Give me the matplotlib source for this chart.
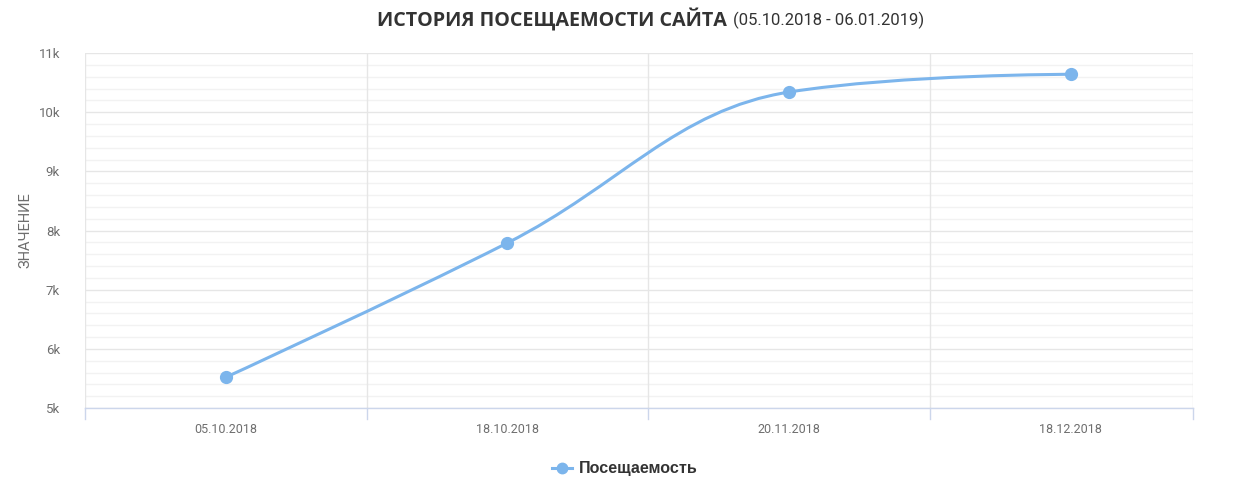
import numpy as np
import matplotlib
matplotlib.use("Agg")
import matplotlib.pyplot as plt
from matplotlib.path import Path
from matplotlib.patches import PathPatch
from matplotlib.lines import Line2D

categories = ["05.10.2018", "18.10.2018", "20.11.2018", "18.12.2018"]
visits = [5520, 7790, 10340, 10640]
yticks = [5000, 6000, 7000, 8000, 9000, 10000, 11000]
ytick_labels = ["5k", "6k", "7k", "8k", "9k", "10k", "11k"]
title_main = "ИСТОРИЯ ПОСЕЩАЕМОСТИ САЙТА"
title_range = "(05.10.2018 - 06.01.2019)"
ylabel = "ЗНАЧЕНИЕ"
series_name = "Посещаемость"

LINE = "#7cb5ec"
W, H = 1250, 484
fig = plt.figure(figsize=(W / 100, H / 100), dpi=100)
ax = fig.add_axes([85 / W, 1 - 408 / H, (1193 - 85) / W, (408 - 53) / H])

xs = np.arange(len(categories), dtype=float)
ys = np.array(visits, dtype=float)

def to_disp(x, y):
    return ax.transData.transform(np.column_stack([x, y]))

ax.set_xlim(-0.5, -0.5 + (1193 - 85) / 281.6)
ax.set_ylim(5000, 11000)

# Highcharts-like spline control points (in display coords)
pts = to_disp(xs, ys)
n = len(pts)
left = pts.copy()
right = pts.copy()
sm = 1.5
den = sm + 1
for i in range(1, n - 1):
    px, py = pts[i]
    lx, ly = pts[i - 1]
    nx, ny = pts[i + 1]
    lcx = (sm * px + lx) / den
    lcy = (sm * py + ly) / den
    rcx = (sm * px + nx) / den
    rcy = (sm * py + ny) / den
    if rcx != lcx:
        corr = ((rcy - lcy) * (rcx - px)) / (rcx - lcx) + py - rcy
        lcy += corr
        rcy += corr
    if lcy > ly and lcy > py:
        lcy = max(ly, py); rcy = 2 * py - lcy
    elif lcy < ly and lcy < py:
        lcy = min(ly, py); rcy = 2 * py - lcy
    if rcy > ny and rcy > py:
        rcy = max(ny, py); lcy = 2 * py - rcy
    elif rcy < ny and rcy < py:
        rcy = min(ny, py); lcy = 2 * py - rcy
    left[i] = (lcx, lcy)
    right[i] = (rcx, rcy)

inv = ax.transData.inverted()
verts = [pts[0]]
codes = [Path.MOVETO]
for i in range(1, n):
    verts += [right[i - 1], left[i], pts[i]]
    codes += [Path.CURVE4] * 3
verts = inv.transform(np.array(verts))
patch = PathPatch(Path(verts, codes), facecolor="none", edgecolor=LINE, lw=2.2,
                  zorder=3, capstyle="round", joinstyle="round")
ax.add_patch(patch)
ax.plot(xs, ys, "o", color=LINE, ms=8.5, zorder=4, mec=LINE)

# grid
for v in np.arange(5000, 11001, 200):
    major = (v % 1000 == 0)
    ax.axhline(v, color="#e6e6e6" if major else "#f2f2f2", lw=1.0, zorder=1)
xl = ax.get_xlim()
for xv in [-0.5, 0.5, 1.5, 2.5, xl[1]]:
    ax.axvline(xv, color="#e6e6e6", lw=1.0, zorder=1)

for s in ["top", "right", "left"]:
    ax.spines[s].set_visible(False)
ax.spines["bottom"].set_color("#ccd6eb")
ax.spines["bottom"].set_linewidth(1.0)
ax.spines["bottom"].set_zorder(2)

FAM = ["Roboto", "DejaVu Sans"]
ax.set_yticks(yticks)
ax.set_yticklabels(ytick_labels)
ax.tick_params(axis="y", length=0, pad=18, labelsize=9.5, labelcolor="#6e6e6e")
ax.set_xticks(xs)
ax.set_xticklabels(categories)
ax.tick_params(axis="x", length=0, pad=11, labelsize=9, labelcolor="#6e6e6e")
for lab in ax.get_xticklabels() + ax.get_yticklabels():
    lab.set_family(FAM)
    lab.set_fontweight("normal")

# band tick marks below axis
for xv in [-0.5, 0.5, 1.5, 2.5, xl[1]]:
    ax.plot([xv, xv], [0, -0.03], transform=ax.get_xaxis_transform(), color="#ccd6eb",
            lw=1.0, clip_on=False)

fig.text(25 / W, 1 - 230 / H, ylabel, rotation=90, ha="center", va="center",
         fontsize=10.5, color="#6e6e6e", family=FAM, fontweight="normal")

fig.text(727 / W, 1 - 20 / H, title_main, ha="right", va="center", fontsize=14.2,
         fontweight="bold", color="#333333", family=["Open Sans", "DejaVu Sans"])
fig.text(733 / W, 1 - 20 / H, title_range, ha="left", va="center", fontsize=12,
         fontweight="normal", color="#333333", family=FAM)

# legend
lx0, lx1 = 552 / W, 572 / W
ly = 1 - 468 / H
fig.add_artist(Line2D([lx0, lx1], [ly, ly], color=LINE, lw=2.2, transform=fig.transFigure))
fig.add_artist(Line2D([(lx0 + lx1) / 2], [ly], marker="o", ms=7.5, color=LINE,
                      transform=fig.transFigure))
fig.text(579 / W, ly, series_name, ha="left", va="center", fontsize=11.6, fontweight="bold",
         color="#333333", family=["Liberation Sans", "DejaVu Sans"])

fig.savefig("out.png", dpi=100, facecolor="white")
